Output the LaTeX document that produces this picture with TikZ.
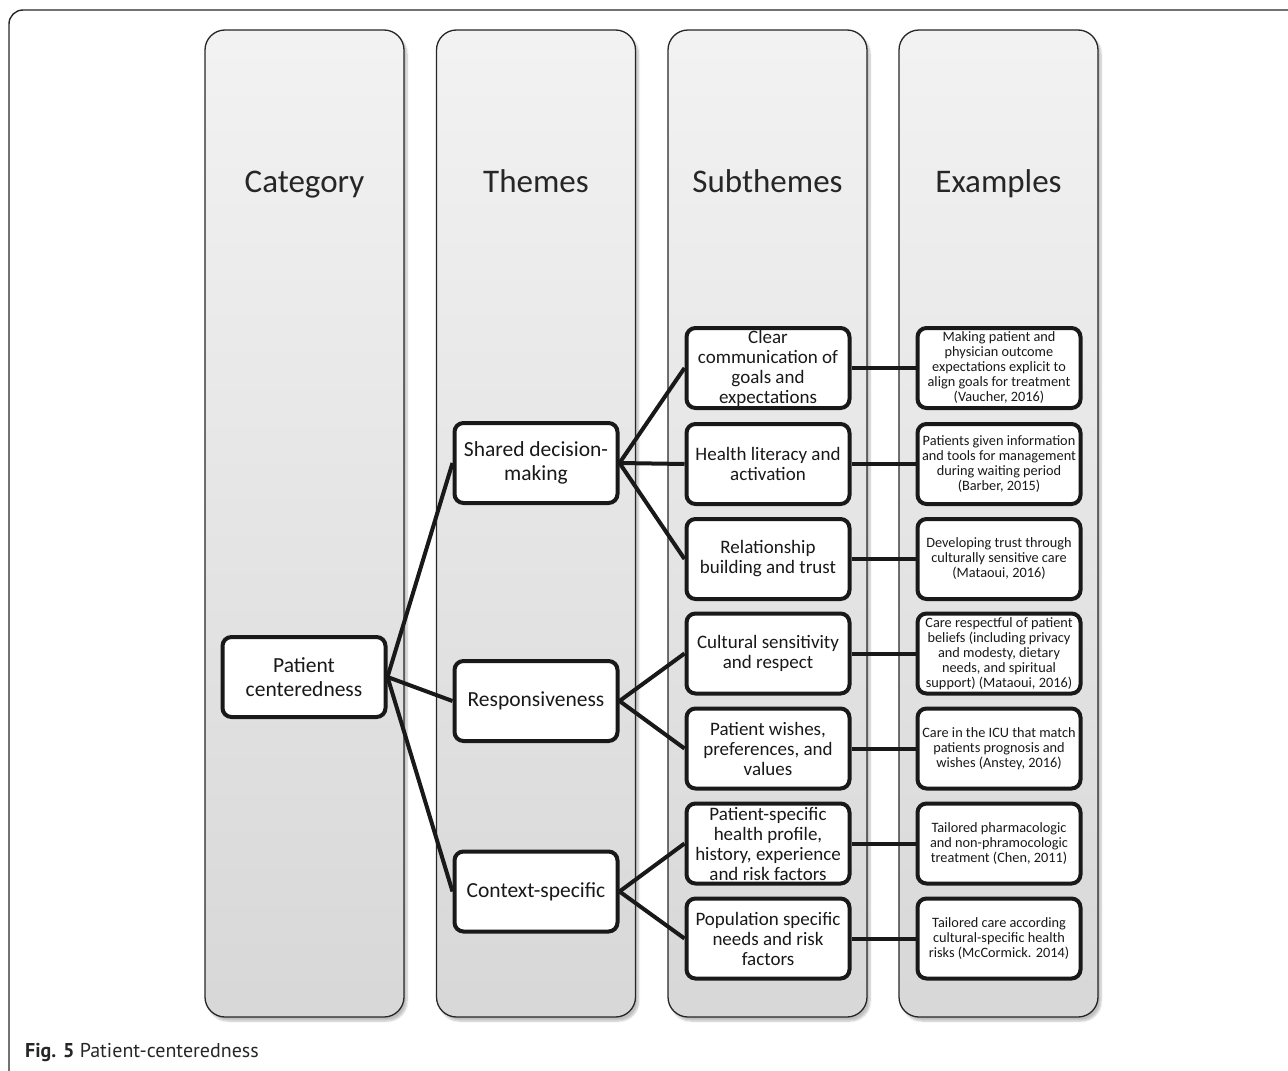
\documentclass[tikz,border=0pt]{standalone}
\usepackage{fontspec}
\setmainfont{Carlito}
\newfontfamily\capfont{PT Sans}
\usetikzlibrary{shadows.blur}
\begin{document}
\begin{tikzpicture}[x=1pt,y=-1pt,
  colbox/.style={draw=black!85, line width=1.3pt, rounded corners=20pt,
    top color=gray!10, bottom color=gray!31,
    minimum width=199pt, minimum height=987pt,
    blur shadow={shadow xshift=3pt, shadow yshift=-4pt, shadow opacity=25, shadow blur steps=6}},
  header/.style={font=\fontsize{33}{36}\selectfont, text=black!85, anchor=base},
  ibox/.style={draw=black!90, line width=4pt, rounded corners=9pt, fill=white,
    minimum width=163pt, minimum height=80pt, align=center, inner sep=1pt, text=black!90},
  themebox/.style={ibox, font=\fontsize{21.5}{23.5}\selectfont},
  subbox/.style={ibox, font=\fontsize{19}{20}\selectfont},
  exbox/.style={ibox, font=\fontsize{14.3}{15}\selectfont},
  link/.style={draw=black!90, line width=4pt}
]
\useasboundingbox (0,0) rectangle (1288,1071);
% outer frame
\draw[line width=1.4pt, black!85, rounded corners=14pt] (1292,10) -- (9,10) -- (9,1076);

% columns
\node[colbox] (colA) at (304.5,523.5) {};
\node[colbox] (colB) at (536,523.5) {};
\node[colbox] (colC) at (767.5,523.5) {};
\node[colbox] (colD) at (998.5,523.5) {};
\node[header] (hA) at (304.5,192) {Category};
\node[header] (hB) at (536,192) {Themes};
\node[header] (hC) at (767.5,192) {Subthemes};
\node[header] (hD) at (998.5,192) {Examples};

% category
\node[themebox] (pc) at (304,677) {Patient\\centeredness};

% themes
\node[themebox] (sdm) at (536,463) {Shared decision-\\making};
\node[themebox] (resp) at (536,701) {Responsiveness};
\node[themebox] (ctx) at (536,891.5) {Context-specific};

% subthemes
\node[subbox] (s1) at (768,368) {Clear\\communication of\\goals and\\expectations};
\node[subbox] (s2) at (768,464) {Health literacy and\\activation};
\node[subbox] (s3) at (768,559) {Relationship\\building and trust};
\node[subbox] (s4) at (768,653.5) {Cultural sensitivity\\and respect};
\node[subbox] (s5) at (768,748.5) {Patient wishes,\\preferences, and\\values};
\node[subbox] (s6) at (768,843.5) {Patient-specific\\health profile,\\history, experience\\and risk factors};
\node[subbox] (s7) at (768,938.5) {Population specific\\needs and risk\\factors};

% examples
\node[exbox] (e1) at (999,368) {Making patient and\\physician outcome\\expectations explicit to\\align goals for treatment\\(Vaucher, 2016)};
\node[exbox] (e2) at (999,464) {Patients given information\\and tools for management\\during waiting period\\(Barber, 2015)};
\node[exbox] (e3) at (999,559) {Developing trust through\\culturally sensitive care\\(Mataoui, 2016)};
\node[exbox] (e4) at (999,653.5) {Care respectful of patient\\beliefs (including privacy\\and modesty, dietary\\needs, and spiritual\\support) (Mataoui, 2016)};
\node[exbox] (e5) at (999,748.5) {Care in the ICU that match\\patients prognosis and\\wishes (Anstey, 2016)};
\node[exbox] (e6) at (999,843.5) {Tailored pharmacologic\\and non-phramocologic\\treatment (Chen, 2011)};
\node[exbox] (e7) at (999,938.5) {Tailored care according\\cultural-specific health\\risks (McCormick. 2014)};

% connectors
\draw[link] (pc.east) -- (sdm.west);
\draw[link] (pc.east) -- (resp.west);
\draw[link] (pc.east) -- (ctx.west);
\draw[link] (sdm.east) -- (s1.west);
\draw[link] (sdm.east) -- (s2.west);
\draw[link] (sdm.east) -- (s3.west);
\draw[link] (resp.east) -- (s4.west);
\draw[link] (resp.east) -- (s5.west);
\draw[link] (ctx.east) -- (s6.west);
\draw[link] (ctx.east) -- (s7.west);
\foreach \i in {1,...,7} {\draw[link] (s\i.east) -- (e\i.west);}

% caption
\node[anchor=base west, inner sep=0pt, font=\capfont\fontsize{20}{22}\selectfont, text=black!85] (cap) at (25,1057) {\textbf{Fig. 5} Patient-centeredness};
\end{tikzpicture}
\end{document}
